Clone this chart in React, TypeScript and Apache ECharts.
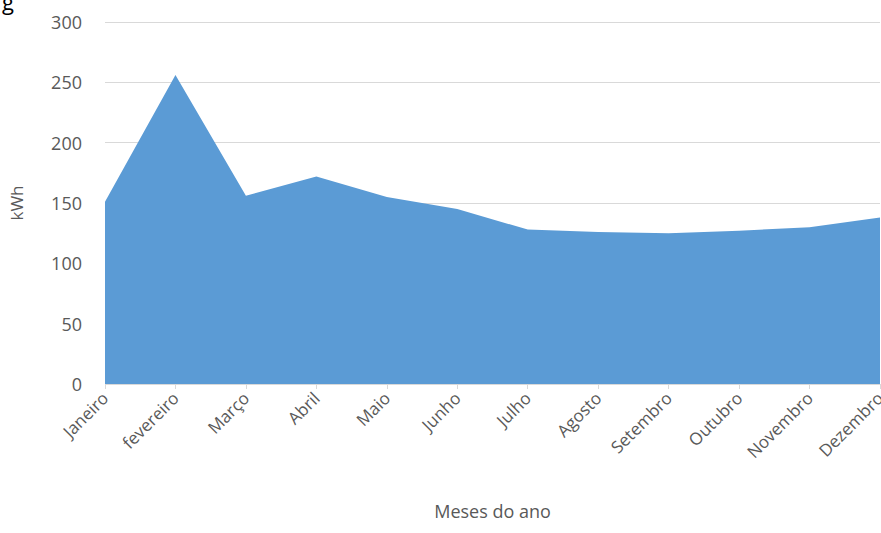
import React, { useEffect, useRef } from "react";
import * as echarts from "echarts";

const months = ["Janeiro", "fevereiro", "Março", "Abril", "Maio", "Junho", "Julho", "Agosto", "Setembro", "Outubro", "Novembro", "Dezembro"];
const kwh = [151, 256, 156, 172, 155, 145, 128, 126, 125, 127, 130, 138];
const yTicks = { min: 0, max: 300, interval: 50 };

export default function App() {
  const ref = useRef<HTMLDivElement>(null);
  useEffect(() => {
    const chart = echarts.init(ref.current!, null, { renderer: "svg" });
    const font = "'Open Sans', 'Noto Sans', sans-serif";
    chart.setOption({
      animation: false,
      backgroundColor: "#ffffff",
      graphic: [
        { type: "text", left: 2, top: -10, style: { text: "g", fontSize: 22, fontFamily: "Open Sans", fill: "#000000" } },
      ],
      grid: { left: 105, right: 1, top: 22, bottom: 149, outerBoundsMode: "none", containLabel: false },
      xAxis: {
        type: "category",
        data: months,
        boundaryGap: false,
        name: "Meses do ano",
        nameLocation: "middle",
        nameGap: 118,
        nameTextStyle: { fontSize: 18, color: "#595959", fontFamily: font },
        axisLine: { show: false },
        axisTick: { show: true, alignWithLabel: true, length: 5, lineStyle: { color: "#d9d9d9" } },
        axisLabel: { rotate: 45, fontSize: 17, color: "#595959", fontFamily: font, margin: 11, interval: 0 },
        splitLine: { show: false },
      },
      yAxis: {
        type: "value",
        min: yTicks.min,
        max: yTicks.max,
        interval: yTicks.interval,
        name: "kWh",
        nameLocation: "middle",
        nameGap: 80,
        nameRotate: 90,
        nameTextStyle: { fontSize: 17, color: "#595959", fontFamily: font },
        axisLine: { show: false },
        axisTick: { show: false },
        axisLabel: { fontSize: 18, color: "#595959", fontFamily: font, margin: 23 },
        splitLine: { lineStyle: { color: "#d9d9d9", width: 1 } },
      },
      series: [
        {
          type: "line",
          data: kwh,
          symbol: "none",
          lineStyle: { width: 0 },
          areaStyle: { color: "#5b9bd5", opacity: 1 },
          itemStyle: { color: "#5b9bd5" },
        },
      ],
    });
    return () => chart.dispose();
  }, []);
  return <div ref={ref} style={{ position: "fixed", left: 0, top: 0, width: 881, height: 533 }} />;
}
